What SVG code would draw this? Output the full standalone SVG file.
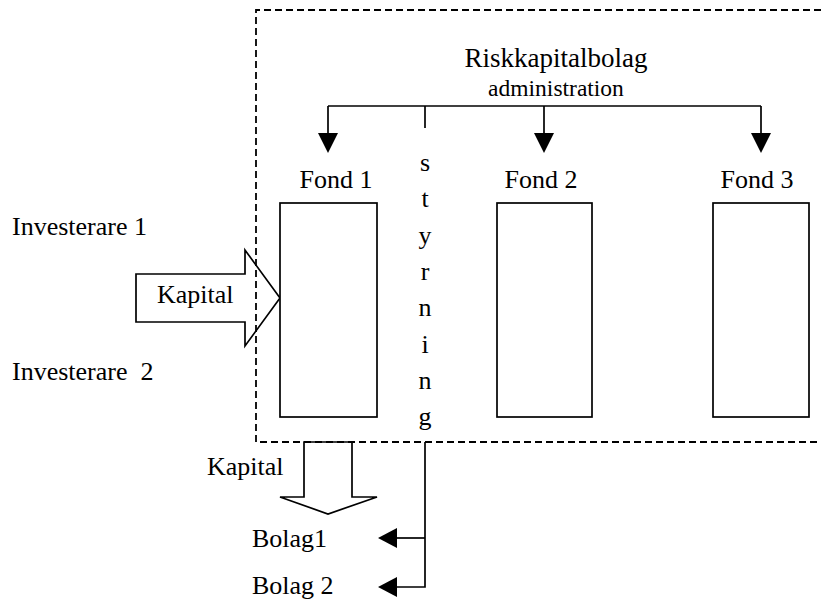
<svg xmlns="http://www.w3.org/2000/svg" width="821" height="601" viewBox="0 0 821 601">
<style>
text{font-family:"Liberation Serif","Times New Roman",serif;fill:#000;font-size:26px}
.c{text-anchor:middle}
.ln{stroke:#000;stroke-width:1.7;fill:none}
.box{stroke:#000;stroke-width:1.7;fill:#fff}
.dash{stroke:#000;stroke-width:1.8;fill:none;stroke-dasharray:7 4}
.head{fill:#000;stroke:none}
.blk{stroke:#000;stroke-width:1.7;fill:none}
</style>
<rect width="821" height="601" fill="#fff"/>
<g id="boundary">
<path class="dash" d="M821 10 H256 V442 H821"/>
</g>
<g id="connectors">
<path class="ln" d="M328 106 H761"/>
<path class="ln" d="M328 106 V134"/>
<polygon class="head" points="318,133 338,133 328,153"/>
<path class="ln" d="M544 106 V134"/>
<polygon class="head" points="534,133 554,133 544,153"/>
<path class="ln" d="M761 106 V134"/>
<polygon class="head" points="751,133 771,133 761,153"/>
<path class="ln" d="M425 106 V128"/>
<path class="ln" d="M425 442 V587 H396"/>
<path class="ln" d="M425 538 H396"/>
<polygon class="head" points="397,528 397,548 378,538"/>
<polygon class="head" points="397,577 397,597 378,587"/>
<polygon class="blk" points="136,274 245,274 245,250 280,298 245,346 245,322 136,322"/>
<polygon class="blk" points="304,442 352,442 352,497 377,497 328,514 280,497 304,497"/>
</g>
<g id="riskkapitalbolag">
<text class="c" x="556" y="67" style="font-size:27px">Riskkapitalbolag</text>
<text class="c" x="556" y="96" style="font-size:23.5px">administration</text>
</g>
<g id="fond1">
<text class="c" x="336" y="188">Fond 1</text>
<rect class="box" x="280" y="203" width="97" height="214"/>
</g>
<g id="fond2">
<text class="c" x="541" y="188">Fond 2</text>
<rect class="box" x="497" y="203" width="95" height="214"/>
</g>
<g id="fond3">
<text class="c" x="757" y="188">Fond 3</text>
<rect class="box" x="713" y="203" width="96" height="214"/>
</g>
<g id="styrning">
<text class="c" x="425" y="171">s</text>
<text class="c" x="425" y="207">t</text>
<text class="c" x="425" y="244">y</text>
<text class="c" x="425" y="280">r</text>
<text class="c" x="425" y="316">n</text>
<text class="c" x="425" y="353">i</text>
<text class="c" x="425" y="389">n</text>
<text class="c" x="425" y="425">g</text>
</g>
<g id="investerare1"><text x="12" y="235">Investerare 1</text></g>
<g id="investerare2"><text x="12" y="380" xml:space="preserve">Investerare  2</text></g>
<g id="kapital-in"><text x="157" y="303">Kapital</text></g>
<g id="kapital-out"><text x="207" y="475">Kapital</text></g>
<g id="bolag1"><text x="252" y="547">Bolag1</text></g>
<g id="bolag2"><text x="252" y="594">Bolag 2</text></g>
</svg>
